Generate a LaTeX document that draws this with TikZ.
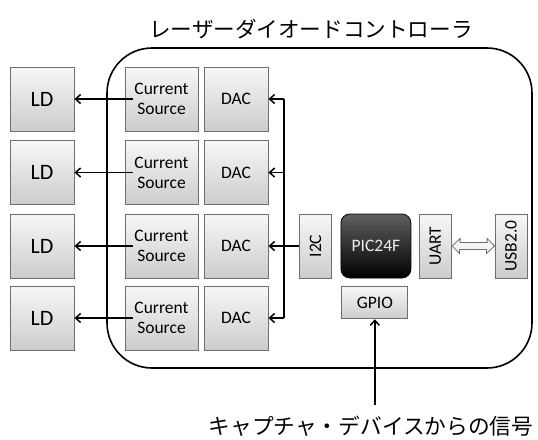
\documentclass[tikz,border=0pt]{standalone}
\usepackage{fontspec}
\setmainfont{Carlito}
\newfontfamily\jp{Noto Sans CJK JP}
\usetikzlibrary{arrows.meta}
\definecolor{boxedge}{HTML}{6E6E6E}
\tikzset{
  blk/.style={rectangle, draw=boxedge, line width=0.9pt, top color=gray!6, bottom color=gray!40,
              inner sep=0pt, font=\fontsize{17.5}{20}\selectfont, align=center},
  ldbox/.style={blk, minimum width=64pt, minimum height=64pt, font=\fontsize{22}{24}\selectfont},
  csbox/.style={blk, minimum width=73pt, minimum height=64pt},
  dacbox/.style={blk, minimum width=64pt, minimum height=64pt},
  narrow/.style={blk, minimum width=32.5pt, minimum height=64pt},
  mcu/.style={rectangle, rounded corners=9pt, draw=black, line width=0.8pt, top color=gray!75!black,
              bottom color=black, inner sep=0pt, minimum width=70pt, minimum height=64pt,
              text=gray!15, font=\fontsize{17.5}{20}\selectfont},
  wire/.style={line width=1.5pt, black},
  arr/.style={wire, -{Straight Barb[length=5pt,width=9pt]}},
  jptext/.style={font=\jp\fontsize{21.7}{24}\selectfont, inner sep=0pt}
}
\begin{document}
\begin{tikzpicture}[x=1pt, y=-1pt]
\useasboundingbox (0,0) rectangle (538,439);

% controller enclosure and title
\draw[line width=1.6pt, rounded corners=45pt] (107,48) rectangle (532,368);
\node[jptext, font=\jp\fontsize{21.6}{24}\selectfont] (title) at (311,29) {レーザーダイオードコントローラ};

% four laser-diode channels
\foreach \i/\y in {1/99, 2/172.5, 3/246, 4/318}{
  \node[ldbox]  (ld\i)  at (42,\y)    {LD};
  \node[csbox]  (cs\i)  at (161.5,\y) {Current\\Source};
  \node[dacbox] (dac\i) at (236,\y)   {DAC};
  \coordinate (bus\i) at (284,\y);
  \draw[arr] ([xshift=8pt]cs\i.west) -- (ld\i.east);
}

% microcontroller and its peripherals
\node[narrow] (i2c)  at (315.4,246) {\rotatebox{90}{I2C}};
\node[mcu]    (pic)  at (375.9,246) {PIC24F};
\node[narrow] (uart) at (435.4,246) {\rotatebox{90}{UART}};
\node[narrow, minimum width=32pt] (usb) at (511,246) {\rotatebox{90}{USB2.0}};
\node[blk, minimum width=66pt, minimum height=32pt] (gpio) at (374.8,302.8) {GPIO};

% I2C bus to the DACs
\draw[wire] (bus1) -- (bus4);
\draw[wire] (i2c.west) -- (bus3);
\foreach \i in {1,...,4}{
  \draw[arr] (bus\i) -- (dac\i.east);
}

% UART <-> USB hollow double arrow
\draw[draw=boxedge, line width=0.8pt, fill=gray!8]
  (uart.east) -- ++(8,-7.5) -- ++(0,4) -- ++(27,0) -- ++(0,-4) -- (usb.west)
  -- ++(-8,7.5) -- ++(0,-4) -- ++(-27,0) -- ++(0,4) -- cycle;

% external capture signal into GPIO
\coordinate (sig) at (gpio.south |- 0,405);
\draw[arr] (sig) -- (gpio.south);
\node[jptext] (siglabel) at (371,426) {キャプチャ・デバイスからの信号};
\end{tikzpicture}
\end{document}
